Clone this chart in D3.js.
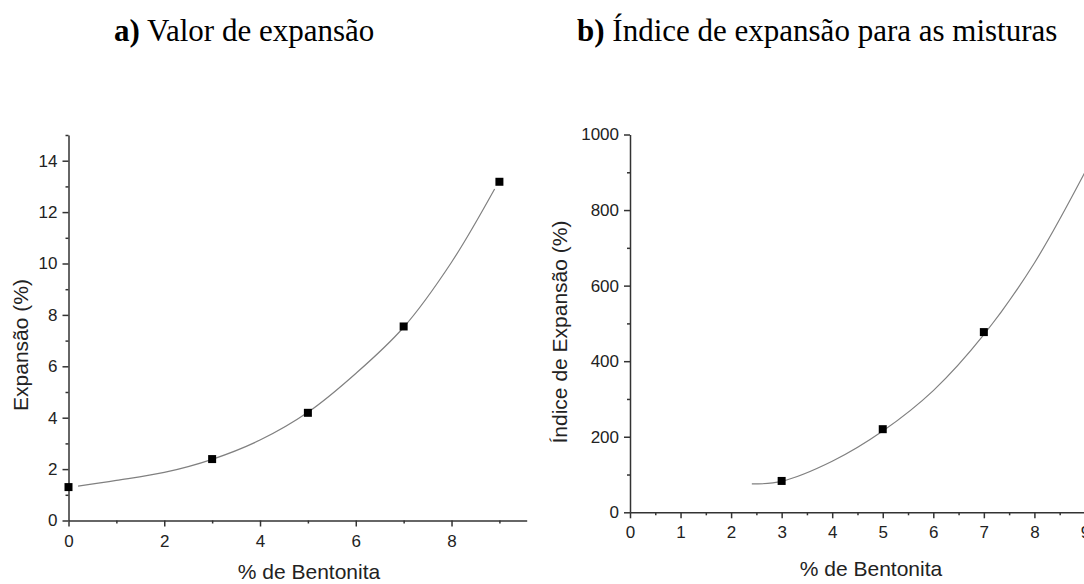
<!DOCTYPE html>
<html>
<head>
<meta charset="utf-8">
<script src="https://cdn.jsdelivr.net/npm/d3@7"></script>
<style>
  html, body { margin: 0; padding: 0; background: #fff; }
  svg { display: block; }
  .tick text { font-family: "Liberation Sans", Arial, sans-serif; font-size: 17px; fill: #222; }
  .axis path, .axis line { stroke: #333; stroke-width: 1.5; }
  .axis-title { font-family: "Liberation Sans", Arial, sans-serif; font-size: 21px; fill: #222; }
  .panel-title { font-family: "Liberation Serif", "Times New Roman", serif; font-size: 31px; fill: #000; }
</style>
</head>
<body>
<script>
// Panel a: swelling (%) against bentonite content
const bentonitaA = [0, 3, 5, 7, 9];
const expansaoA = [1.3, 2.39, 4.19, 7.55, 13.18];
// fitted trend line for panel a
const ajusteXA = [0.2, 1, 2, 3, 4, 5, 6, 7, 8, 8.9];
const ajusteYA = [1.34, 1.56, 1.87, 2.38, 3.13, 4.21, 5.72, 7.52, 10.05, 12.9];

// Panel b: swelling index (%) for the mixtures
const bentonitaB = [3, 5, 7];
const indiceB = [83, 220, 477];
// fitted trend line for panel b
const ajusteXB = [2.41, 3, 4, 5, 6, 7, 8, 9];
const ajusteYB = [75, 82, 135, 215, 322, 470, 660, 900];

// tick values
const ticksXA = [0, 2, 4, 6, 8];
const minorXA = [1, 3, 5, 7, 9];
const ticksYA = [0, 2, 4, 6, 8, 10, 12, 14];
const minorYA = [1, 3, 5, 7, 9, 11, 13, 15];
const ticksXB = [0, 1, 2, 3, 4, 5, 6, 7, 8, 9];
const minorXB = [0.5, 1.5, 2.5, 3.5, 4.5, 5.5, 6.5, 7.5, 8.5, 9.5];
const ticksYB = [0, 200, 400, 600, 800, 1000];
const minorYB = [100, 300, 500, 700, 900];

const W = 1084, H = 584;
const svg = d3.select("body").append("svg").attr("width", W).attr("height", H);
svg.append("rect").attr("width", W).attr("height", H).attr("fill", "#fff");

function panel(cfg) {
  const g = svg.append("g");
  const x = d3.scaleLinear().domain(cfg.xDomain).range(cfg.xRange);
  const y = d3.scaleLinear().domain(cfg.yDomain).range(cfg.yRange);

  // minor ticks
  g.append("g").attr("class", "axis")
    .attr("transform", `translate(0,${cfg.yRange[0]})`)
    .call(d3.axisBottom(x).tickValues(cfg.minorX).tickSize(3).tickSizeOuter(0).tickFormat(""))
    .select(".domain").remove();
  g.append("g").attr("class", "axis")
    .attr("transform", `translate(${cfg.xRange[0]},0)`)
    .call(d3.axisLeft(y).tickValues(cfg.minorY).tickSize(3).tickSizeOuter(0).tickFormat(""))
    .select(".domain").remove();

  // major ticks with labels
  g.append("g").attr("class", "axis")
    .attr("transform", `translate(0,${cfg.yRange[0]})`)
    .call(d3.axisBottom(x).tickValues(cfg.ticksX).tickSize(6).tickSizeOuter(0).tickPadding(cfg.padX).tickFormat(d3.format("d")));
  g.append("g").attr("class", "axis")
    .attr("transform", `translate(${cfg.xRange[0]},0)`)
    .call(d3.axisLeft(y).tickValues(cfg.ticksY).tickSize(6).tickSizeOuter(0).tickPadding(cfg.padY).tickFormat(d3.format("d")));

  // fitted curve
  const line = d3.line().x(d => x(d[0])).y(d => y(d[1])).curve(d3.curveCatmullRom.alpha(0.5));
  g.append("path")
    .datum(d3.zip(cfg.fitX, cfg.fitY))
    .attr("d", line)
    .attr("fill", "none")
    .attr("stroke", "#808080")
    .attr("stroke-width", 1.2);

  // measured points
  g.selectAll(".pt")
    .data(d3.zip(cfg.px, cfg.py))
    .join("path")
    .attr("class", "pt")
    .attr("transform", d => `translate(${x(d[0])},${y(d[1])})`)
    .attr("d", d3.symbol(d3.symbolSquare, 64))
    .attr("fill", "#000");

  // axis titles
  g.append("text").attr("class", "axis-title")
    .attr("x", cfg.xTitle[0]).attr("y", cfg.xTitle[1])
    .attr("text-anchor", "middle")
    .text("% de Bentonita");
  g.append("text").attr("class", "axis-title")
    .attr("transform", `translate(${cfg.yTitle[0]},${cfg.yTitle[1]}) rotate(-90)`)
    .attr("text-anchor", "middle")
    .text(cfg.yLabel);
}

panel({
  xDomain: [0, 9.57], xRange: [68.5, 526.7],
  yDomain: [0, 15], yRange: [520.5, 135],
  ticksX: ticksXA, minorX: minorXA, ticksY: ticksYA, minorY: minorYA,
  padX: 8, padY: 5,
  px: bentonitaA, py: expansaoA, fitX: ajusteXA, fitY: ajusteYA,
  xTitle: [309, 579], yTitle: [28, 345], yLabel: "Expansão (%)"
});

panel({
  xDomain: [0, 9.5], xRange: [630, 630 + 9.5 * 50.55],
  yDomain: [0, 1000], yRange: [512.3, 134.5],
  ticksX: ticksXB, minorX: minorXB, ticksY: ticksYB, minorY: minorYB,
  padX: 8, padY: 5,
  px: bentonitaB, py: indiceB, fitX: ajusteXB, fitY: ajusteYB,
  xTitle: [871, 576], yTitle: [567, 332], yLabel: "Índice de Expansão (%)"
});

// panel titles
const t1 = svg.append("text").attr("class", "panel-title").attr("x", 114).attr("y", 41);
t1.append("tspan").attr("font-weight", "bold").text("a)");
t1.append("tspan").text(" Valor de expansão");
const t2 = svg.append("text").attr("class", "panel-title").attr("x", 577).attr("y", 41);
t2.append("tspan").attr("font-weight", "bold").text("b)");
t2.append("tspan").text(" Índice de expansão para as misturas");
</script>
</body>
</html>
